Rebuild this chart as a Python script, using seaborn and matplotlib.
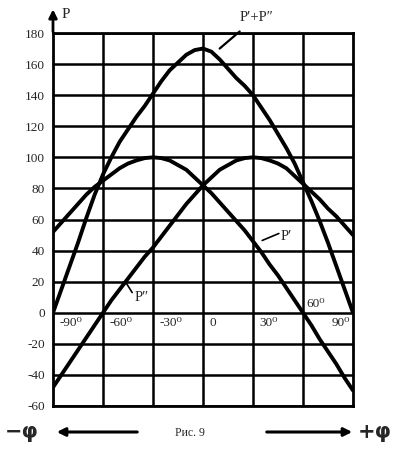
import numpy as np
import pandas as pd
import matplotlib
matplotlib.use("Agg")
import matplotlib.pyplot as plt
import seaborn as sns

# ---- data ----
phi = [-90, -85, -80, -75, -70, -65, -60, -55, -50, -45, -40, -35, -30, -25, -20, -15, -10, -5, 0,
       5, 10, 15, 20, 25, 30, 35, 40, 45, 50, 55, 60, 65, 70, 75, 80, 85, 90]
p1 = [52, 58, 64, 70, 76, 81, 85, 89, 93, 96, 98, 99.5, 100, 99.5, 98, 95, 92, 87, 82,
      77, 71, 65, 59, 53, 46, 39, 31, 24, 16, 8, 0, -8, -17, -25, -33, -42, -50]          # P'
p2 = [-48, -40, -32, -24, -16, -8, 0, 8, 15, 22, 29, 36, 42, 49, 56, 63, 70, 76, 82,
      87, 92, 95, 98, 99.5, 100, 99.5, 98, 96, 93, 88, 83, 78, 73, 67, 62, 56, 50]       # P''
psum = [0, 15, 30, 45, 61, 76, 89, 100, 110, 118, 126, 133, 141, 149, 156, 161, 166, 169, 170,
        168, 163, 157, 151, 146, 140, 132, 124, 115, 106, 96, 84, 72, 59, 45, 30, 15, 0]  # P'+P''

y_ticks = [-60, -40, -20, 0, 20, 40, 60, 80, 100, 120, 140, 160, 180]
x_grid = [-60, -30, 0, 30, 60]
x_labels = ["-90", "-60", "-30", "0", "30", "90"]

df = pd.concat([
    pd.DataFrame({"phi": phi, "P": p1, "curve": "P'"}),
    pd.DataFrame({"phi": phi, "P": p2, "curve": "P''"}),
    pd.DataFrame({"phi": phi, "P": psum, "curve": "P'+P''"}),
])

sns.set_theme(style="white")
plt.rcParams["font.family"] = ["Liberation Serif", "DejaVu Serif"]

fig = plt.figure(figsize=(3.97, 4.58), dpi=100)
ax = fig.add_axes([53 / 397, 1 - 406 / 458, 300 / 397, (406 - 33) / 458])

# grid
for yv in y_ticks:
    ax.axhline(yv, color="black", lw=1.8, zorder=1)
for xv in x_grid:
    ax.axvline(xv, color="black", lw=1.8, zorder=1)

sns.lineplot(data=df, x="phi", y="P", hue="curve", units="curve", estimator=None,
             palette=["black", "black", "black"], linewidth=2.8, legend=False, ax=ax,
             zorder=3)
for ln in ax.get_lines():
    ln.set_solid_joinstyle("round")

ax.set_xlim(-90, 90)
ax.set_ylim(-60, 180)
ax.set_xticks([])
ax.set_yticks(y_ticks)
ax.set_yticklabels([str(v) for v in y_ticks], fontsize=9.5)
ax.tick_params(axis="y", length=0, pad=6)
ax.set_xlabel("")
ax.set_ylabel("")
for s in ax.spines.values():
    s.set_color("black")
    s.set_linewidth(2.0)

# x labels inside the plot, just below the zero line
deg = "\u2070"
lab_pos = [-90, -60, -30, 0, 30]
for xv, lab in zip(lab_pos, x_labels[:-1]):
    txt = lab if lab == "0" else lab + deg
    ax.text(xv + 4, -3, txt, ha="left", va="top", fontsize=9.5, zorder=4)
ax.text(88, -3, x_labels[-1] + deg, ha="right", va="top", fontsize=9.5, zorder=4)
ax.text(62, 1.5, "60" + deg, ha="left", va="bottom", fontsize=9.5, zorder=4)

# curve labels
ax.text(32, 186, "P\u2032+P\u2033", ha="center", va="bottom", fontsize=10.5, clip_on=False)
ax.plot([22, 10], [181, 170], color="black", lw=1.6, clip_on=False, zorder=4)
ax.text(-41, 9.5, "P\u2033", ha="left", va="center", fontsize=10.5, zorder=4)
ax.plot([-46, -42.5], [19, 13], color="black", lw=1.2, zorder=4)
ax.text(46.5, 49, "P\u2032", ha="left", va="center", fontsize=10.5, zorder=4)
ax.plot([35.5, 45.5], [46.5, 51], color="black", lw=1.2, zorder=4)

# y axis arrow and label
ax.annotate("", xy=(-90, 197), xytext=(-90, 179), xycoords="data",
            arrowprops=dict(arrowstyle="-|>", color="black", lw=2, mutation_scale=12),
            annotation_clip=False)
fig.text(62 / 397, 1 - 15 / 458, "P", ha="left", va="center", fontsize=11)

# bottom captions and arrows
fig.text(22 / 397, 1 - 432 / 458, "\u2212\u03c6", ha="center", va="center", fontsize=15,
         fontweight="bold", family=["DejaVu Sans"])
fig.text(375 / 397, 1 - 432 / 458, "+\u03c6", ha="center", va="center", fontsize=15,
         fontweight="bold", family=["DejaVu Sans"])
fig.text(190 / 397, 1 - 433 / 458, "Рис. 9", ha="center", va="center", fontsize=8.5)
fig.patches.append(matplotlib.patches.FancyArrowPatch(
    (140 / 397, 1 - 432 / 458), (54 / 397, 1 - 432 / 458), transform=fig.transFigure,
    arrowstyle="-|>", mutation_scale=12, lw=2.2, color="black"))
fig.patches.append(matplotlib.patches.FancyArrowPatch(
    (264 / 397, 1 - 432 / 458), (355 / 397, 1 - 432 / 458), transform=fig.transFigure,
    arrowstyle="-|>", mutation_scale=12, lw=2.2, color="black"))

fig.savefig("out.png", dpi=100)
